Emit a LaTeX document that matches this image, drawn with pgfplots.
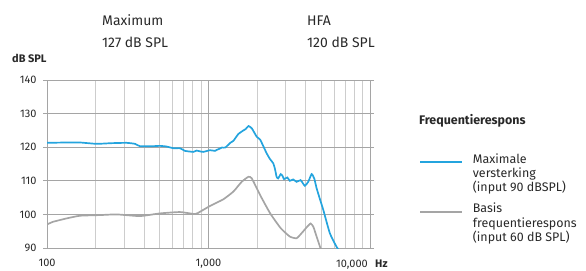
\documentclass[border=0pt]{standalone}
\usepackage{pgfplots}
\pgfplotsset{compat=1.18}
\usepackage{fontspec}
\setmainfont{Fira Sans}
\definecolor{blueline}{RGB}{36,164,222}
\definecolor{grayline}{RGB}{165,165,165}
\definecolor{txt}{RGB}{40,40,40}
\definecolor{gmaj}{RGB}{165,165,165}
\definecolor{gmin}{RGB}{205,205,205}
\begin{document}
\begin{tikzpicture}[x=1bp,y=1bp]
\path[use as bounding box] (-47,-22) rectangle (539,248);
\begin{axis}[
  at={(0,0)}, anchor=south west,
  scale only axis, width=323bp, height=168bp,
  xmode=log, log basis x=10,
  xmin=100, xmax=10000, ymin=90, ymax=140,
  xtick={100,1000,10000}, xticklabels={100,{1,000},{}},
  minor xtick={200,300,400,500,600,700,800,900,2000,3000,4000,5000,6000,7000,8000,9000},
  ytick={90,100,110,120,130,140},
  grid=both,
  major grid style={gmaj, line width=0.9pt},
  minor grid style={gmin, line width=0.9pt},
  axis line style={gmaj, line width=0.9pt},
  xtick style={draw=none},
  ytick style={gmaj, line width=0.9pt},
  tick align=outside, major tick length=4bp,
  xticklabel style={anchor=base, yshift=-14bp, font=\fontsize{11}{13}\selectfont, text=txt},
  yticklabel style={font=\fontsize{11}{13}\selectfont, text=txt, xshift=-3bp},
  /pgf/number format/assume math mode=true,
  clip=true,
]
\addplot[blueline, line width=1.7pt, smooth, tension=0.3] coordinates {
(100,121.3) (132,121.4) (160,121.4) (203,121.0) (250,121.2) (311,121.3) (351,121.0)
(376,120.3) (450,120.3) (501,120.4) (550,120.2) (606,119.7) (666,119.7) (715,118.9)
(770,118.7) (805,118.6) (845,119.0) (880,118.8) (928,118.6) (1021,119.1) (1096,118.9)
(1125,119.2) (1177,119.6) (1210,119.9) (1270,119.9) (1365,121.3) (1426,121.9)
(1529,123.9) (1645,125.0) (1700,125.4) (1768,126.3) (1855,125.6) (1990,123.1)
(2085,122.3) (2200,120.0) (2290,118.2) (2400,116.5) (2518,115.2) (2580,113.5)
(2640,111.2) (2700,110.7) (2800,112.0) (2870,111.5) (2935,110.5) (3075,111.0)
(3190,110.0) (3345,110.4) (3510,109.7) (3715,110.2) (3850,109.2) (3955,108.5)
(4145,109.7) (4350,112.0) (4515,110.7) (4670,107.8) (4900,104.5) (5140,101.3)
(5640,94.4) (6200,90.4) (6500,89)
};
\addplot[grayline, line width=1.7pt, smooth, tension=0.3] coordinates {
(100,97.0) (109,97.8) (132,98.8) (160,99.6) (213,99.8) (270,100.0) (376,99.5)
(501,100.3) (666,100.7) (825,100.1) (887,100.8) (1021,102.5) (1236,104.5)
(1426,106.8) (1605,109.7) (1768,111.2) (1855,110.7) (2085,105.8) (2410,100.3)
(2800,95.9) (3190,93.4) (3510,92.9) (3770,94.4) (4060,96.2) (4290,97.3)
(4460,96.3) (4670,93.4) (4900,90.4) (5000,89)
};
\end{axis}
% x end labels
\node[anchor=base east, inner sep=0pt, text=txt, font=\fontsize{11}{13}\selectfont] at (321,-19.5) {10,000};
\node[anchor=base west, inner sep=0pt, text=txt, font=\fontsize{11}{13}\selectfont\bfseries] at (328,-19.5) {Hz};
% y unit
\node[anchor=base west, inner sep=0pt, text=txt, font=\fontsize{11}{13}\selectfont\bfseries] at (-35,185.3) {dB SPL};
% top texts
\node[anchor=base west, inner sep=0pt, text=txt, font=\fontsize{14}{16}\selectfont] at (55,223) {Maximum};
\node[anchor=base west, inner sep=0pt, text=txt, font=\fontsize{14}{16}\selectfont] at (55,201) {127 dB SPL};
\node[anchor=base west, inner sep=0pt, text=txt, font=\fontsize{14}{16}\selectfont] at (260,223) {HFA};
\node[anchor=base west, inner sep=0pt, text=txt, font=\fontsize{14}{16}\selectfont] at (260,201) {120 dB SPL};
% legend
\node[anchor=base west, inner sep=0pt, text=txt, font=\fontsize{12.5}{14.5}\selectfont\bfseries] at (372,123.5) {Frequentierespons};
\draw[blueline, line width=2.3pt] (373,86.3) -- (415,86.3);
\node[anchor=base west, inner sep=0pt, text=txt, align=left, font=\fontsize{12.5}{14.3}\selectfont] at (425.7,56.4) {Maximale\\versterking\\(input 90 dBSPL)};
\draw[grayline, line width=2.3pt] (373,36.3) -- (415,36.3);
\node[anchor=base west, inner sep=0pt, text=txt, align=left, font=\fontsize{12.5}{14.3}\selectfont] at (425.7,6.7) {Basis\\frequentierespons\\(input 60 dB SPL)};
\end{tikzpicture}
\end{document}
